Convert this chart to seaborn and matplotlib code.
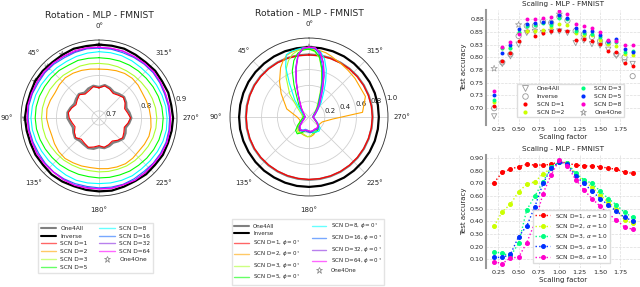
import numpy as np
import matplotlib
matplotlib.use("Agg")
import matplotlib.pyplot as plt
import seaborn as sns
from matplotlib.lines import Line2D

# ---------------- data ----------------
# Panel 1: rotation, MLP, FMNIST (accuracy vs angle, deg, every 10 deg)
rot1_angles = list(range(0, 360, 10))
rot1_inverse = [0.887, 0.886, 0.888, 0.886, 0.885, 0.887, 0.888, 0.886, 0.887, 0.889, 0.887, 0.886, 0.887, 0.886, 0.888, 0.887, 0.885, 0.886,
                0.887, 0.888, 0.886, 0.885, 0.887, 0.886, 0.888, 0.887, 0.888, 0.889, 0.887, 0.888, 0.886, 0.887, 0.885, 0.886, 0.888, 0.887]
rot1_one4all = [0.767, 0.772, 0.768, 0.762, 0.768, 0.764, 0.760, 0.765, 0.770, 0.769, 0.762, 0.758, 0.763, 0.768, 0.764, 0.766, 0.770, 0.768,
                0.762, 0.766, 0.764, 0.760, 0.765, 0.770, 0.766, 0.760, 0.766, 0.771, 0.767, 0.762, 0.768, 0.772, 0.768, 0.764, 0.770, 0.774]
rot1_scn = {
    1: [0.765, 0.770, 0.762, 0.758, 0.766, 0.760, 0.755, 0.762, 0.768, 0.764, 0.757, 0.752, 0.760, 0.766, 0.758, 0.762, 0.768, 0.763,
        0.758, 0.764, 0.760, 0.755, 0.762, 0.767, 0.761, 0.756, 0.763, 0.769, 0.762, 0.757, 0.765, 0.770, 0.764, 0.760, 0.767, 0.772],
    2: [0.818, 0.820, 0.823, 0.826, 0.828, 0.826, 0.823, 0.826, 0.829, 0.828, 0.824, 0.822, 0.825, 0.828, 0.829, 0.826, 0.824, 0.822,
        0.823, 0.825, 0.827, 0.829, 0.828, 0.826, 0.828, 0.830, 0.829, 0.826, 0.824, 0.822, 0.821, 0.824, 0.826, 0.825, 0.822, 0.819],
    3: [0.834, 0.835, 0.836, 0.835, 0.837, 0.838, 0.840, 0.841, 0.842, 0.842, 0.841, 0.840, 0.838, 0.836, 0.835, 0.833, 0.832, 0.831,
        0.832, 0.833, 0.834, 0.836, 0.837, 0.838, 0.840, 0.842, 0.843, 0.843, 0.842, 0.840, 0.838, 0.836, 0.835, 0.834, 0.834, 0.834],
    5: [0.850, 0.851, 0.853, 0.852, 0.855, 0.856, 0.857, 0.859, 0.860, 0.860, 0.859, 0.857, 0.855, 0.853, 0.852, 0.850, 0.849, 0.848,
        0.849, 0.850, 0.851, 0.853, 0.854, 0.856, 0.858, 0.860, 0.861, 0.861, 0.860, 0.858, 0.856, 0.854, 0.853, 0.852, 0.851, 0.850],
    8: [0.867, 0.866, 0.865, 0.864, 0.865, 0.866, 0.868, 0.870, 0.871, 0.872, 0.871, 0.869, 0.867, 0.866, 0.865, 0.866, 0.867, 0.866,
        0.865, 0.866, 0.867, 0.868, 0.867, 0.868, 0.870, 0.872, 0.873, 0.872, 0.871, 0.869, 0.867, 0.866, 0.865, 0.866, 0.867, 0.867],
    16: [0.877, 0.878, 0.877, 0.876, 0.878, 0.879, 0.878, 0.880, 0.881, 0.880, 0.879, 0.878, 0.877, 0.878, 0.879, 0.878, 0.877, 0.876,
         0.877, 0.878, 0.879, 0.878, 0.877, 0.879, 0.880, 0.881, 0.880, 0.879, 0.878, 0.877, 0.878, 0.879, 0.878, 0.877, 0.876, 0.877],
    32: [0.879, 0.880, 0.879, 0.880, 0.881, 0.880, 0.882, 0.881, 0.883, 0.882, 0.881, 0.880, 0.881, 0.880, 0.879, 0.880, 0.881, 0.879,
         0.880, 0.881, 0.880, 0.882, 0.881, 0.880, 0.882, 0.883, 0.882, 0.881, 0.880, 0.879, 0.880, 0.881, 0.880, 0.879, 0.880, 0.879],
    64: [0.880, 0.881, 0.882, 0.881, 0.882, 0.883, 0.882, 0.883, 0.884, 0.883, 0.882, 0.881, 0.882, 0.881, 0.880, 0.881, 0.882, 0.881,
         0.880, 0.882, 0.881, 0.883, 0.882, 0.881, 0.883, 0.884, 0.883, 0.882, 0.881, 0.880, 0.881, 0.882, 0.881, 0.880, 0.881, 0.880],
}
rot1_one4one_angles = [0, 30, 45, 60, 90]
rot1_one4one = [0.886, 0.887, 0.884, 0.887, 0.888]

# Panel 2: rotation, SCN trained at phi = 0
rot2_circ_angles = list(range(0, 360, 10))
rot2_inverse = [0.885, 0.884, 0.886, 0.885, 0.884, 0.885, 0.886, 0.885, 0.884, 0.885, 0.886, 0.885, 0.884, 0.885, 0.886, 0.884, 0.885, 0.886,
                0.885, 0.884, 0.885, 0.886, 0.885, 0.884, 0.885, 0.886, 0.885, 0.884, 0.885, 0.886, 0.885, 0.884, 0.885, 0.886, 0.885, 0.884]
rot2_one4all = [0.790, 0.792, 0.795, 0.798, 0.800, 0.801, 0.802, 0.801, 0.800, 0.799, 0.800, 0.801, 0.802, 0.800, 0.798, 0.796, 0.795, 0.794,
                0.795, 0.796, 0.798, 0.800, 0.801, 0.802, 0.803, 0.804, 0.805, 0.806, 0.806, 0.804, 0.802, 0.800, 0.798, 0.795, 0.793, 0.791]
rot2_scn1 = [0.786, 0.788, 0.791, 0.794, 0.796, 0.797, 0.798, 0.797, 0.796, 0.795, 0.796, 0.797, 0.798, 0.796, 0.794, 0.792, 0.791, 0.790,
             0.791, 0.792, 0.794, 0.796, 0.797, 0.798, 0.799, 0.800, 0.801, 0.802, 0.802, 0.800, 0.798, 0.796, 0.794, 0.791, 0.789, 0.787]
rot2_angles = [0, 5, 10, 15, 20, 25, 30, 40, 50, 70, 90, 110, 125, 135, 145, 155, 165, 175, 185, 195, 205, 215, 225, 235,
               250, 265, 275, 290, 310, 320, 330, 335, 340, 345, 350, 355]
rot2_scn = {
    2: [0.86, 0.86, 0.86, 0.85, 0.83, 0.78, 0.72, 0.58, 0.46, 0.30, 0.15, 0.12, 0.15, 0.20, 0.22, 0.23, 0.24, 0.25, 0.25, 0.23, 0.20, 0.18,
        0.17, 0.16, 0.18, 0.30, 0.68, 0.76, 0.76, 0.77, 0.79, 0.80, 0.82, 0.84, 0.85, 0.86],
    3: [0.86, 0.86, 0.85, 0.82, 0.76, 0.68, 0.58, 0.38, 0.20, 0.10, 0.08, 0.10, 0.16, 0.22, 0.24, 0.22, 0.23, 0.25, 0.24, 0.21, 0.19, 0.18,
        0.16, 0.11, 0.07, 0.05, 0.05, 0.06, 0.10, 0.15, 0.24, 0.33, 0.46, 0.62, 0.76, 0.83],
    5: [0.86, 0.85, 0.82, 0.74, 0.62, 0.45, 0.32, 0.20, 0.13, 0.08, 0.07, 0.10, 0.17, 0.24, 0.26, 0.22, 0.18, 0.17, 0.19, 0.21, 0.21, 0.20,
        0.17, 0.12, 0.07, 0.05, 0.05, 0.06, 0.11, 0.17, 0.26, 0.35, 0.48, 0.63, 0.77, 0.84],
    8: [0.88, 0.88, 0.87, 0.86, 0.84, 0.70, 0.50, 0.28, 0.15, 0.07, 0.05, 0.07, 0.11, 0.16, 0.19, 0.18, 0.16, 0.17, 0.19, 0.20, 0.21, 0.22,
        0.20, 0.14, 0.08, 0.06, 0.06, 0.08, 0.15, 0.24, 0.38, 0.50, 0.64, 0.76, 0.84, 0.87],
    16: [0.88, 0.87, 0.80, 0.65, 0.48, 0.34, 0.25, 0.16, 0.11, 0.06, 0.05, 0.07, 0.12, 0.18, 0.21, 0.20, 0.18, 0.19, 0.20, 0.19, 0.18, 0.19,
         0.17, 0.12, 0.07, 0.05, 0.05, 0.06, 0.12, 0.18, 0.27, 0.36, 0.50, 0.66, 0.80, 0.87],
    32: [0.885, 0.87, 0.79, 0.63, 0.46, 0.33, 0.24, 0.15, 0.10, 0.06, 0.05, 0.07, 0.11, 0.17, 0.20, 0.19, 0.17, 0.18, 0.19, 0.18, 0.17, 0.18,
         0.17, 0.13, 0.08, 0.06, 0.06, 0.08, 0.14, 0.21, 0.32, 0.42, 0.56, 0.71, 0.83, 0.88],
    64: [0.885, 0.875, 0.80, 0.64, 0.47, 0.33, 0.24, 0.15, 0.10, 0.06, 0.05, 0.06, 0.10, 0.16, 0.19, 0.19, 0.17, 0.17, 0.18, 0.18, 0.17, 0.17,
         0.16, 0.12, 0.07, 0.05, 0.05, 0.07, 0.13, 0.20, 0.30, 0.40, 0.55, 0.70, 0.82, 0.88],
}
rot2_one4one_angles = [0]
rot2_one4one = [0.885]

# Panel 3: scaling (test accuracy vs scaling factor)
scale_x = [0.2, 0.3, 0.4, 0.5, 0.6, 0.7, 0.8, 0.9, 1.0, 1.1, 1.2, 1.3, 1.4, 1.5, 1.6, 1.7, 1.8, 1.9]
sc_one4all = [0.684, 0.787, 0.802, 0.825, 0.848, 0.850, 0.848, 0.850, 0.851, 0.848, 0.828, 0.833, 0.826, 0.823, 0.815, 0.803, 0.790, 0.787]
sc_inverse = [0.700, 0.790, 0.806, 0.842, 0.862, 0.862, 0.870, 0.868, 0.880, 0.872, 0.852, 0.845, 0.840, 0.832, 0.828, 0.806, 0.800, 0.763]
sc_scn = {
    1: [0.705, 0.792, 0.809, 0.832, 0.851, 0.842, 0.847, 0.851, 0.853, 0.851, 0.835, 0.836, 0.833, 0.826, 0.812, 0.810, 0.788, 0.782],
    2: [0.712, 0.819, 0.818, 0.848, 0.852, 0.852, 0.853, 0.860, 0.865, 0.864, 0.848, 0.844, 0.843, 0.835, 0.826, 0.822, 0.806, 0.805],
    3: [0.716, 0.819, 0.818, 0.850, 0.862, 0.863, 0.868, 0.864, 0.878, 0.876, 0.851, 0.848, 0.846, 0.840, 0.830, 0.830, 0.810, 0.812],
    5: [0.725, 0.808, 0.825, 0.855, 0.865, 0.868, 0.870, 0.870, 0.884, 0.878, 0.858, 0.851, 0.851, 0.843, 0.833, 0.836, 0.817, 0.810],
    8: [0.734, 0.820, 0.830, 0.845, 0.876, 0.875, 0.878, 0.880, 0.891, 0.886, 0.866, 0.862, 0.857, 0.850, 0.834, 0.832, 0.825, 0.825],
}
sc_one4one_x = [0.2, 0.5, 1.0]
sc_one4one = [0.778, 0.864, 0.885]
sc_yticks = [0.700, 0.725, 0.750, 0.775, 0.800, 0.825, 0.850, 0.875]
sc_yticklabels = ["0.70", "0.73", "0.75", "0.78", "0.80", "0.83", "0.85", "0.88"]

# Panel 4: scaling, SCN with alpha = 1.0
sa_scn = {
    1: [0.706, 0.789, 0.813, 0.833, 0.852, 0.845, 0.846, 0.850, 0.875, 0.860, 0.845, 0.840, 0.836, 0.833, 0.820, 0.813, 0.789, 0.780],
    2: [0.363, 0.476, 0.535, 0.635, 0.693, 0.714, 0.775, 0.820, 0.870, 0.860, 0.770, 0.720, 0.670, 0.610, 0.550, 0.500, 0.410, 0.384],
    3: [0.159, 0.146, 0.125, 0.225, 0.490, 0.600, 0.714, 0.830, 0.870, 0.860, 0.780, 0.730, 0.700, 0.640, 0.580, 0.530, 0.470, 0.430],
    5: [0.114, 0.114, 0.138, 0.278, 0.363, 0.516, 0.700, 0.820, 0.870, 0.850, 0.760, 0.700, 0.640, 0.580, 0.530, 0.480, 0.430, 0.405],
    8: [0.080, 0.065, 0.110, 0.115, 0.230, 0.390, 0.620, 0.770, 0.885, 0.840, 0.730, 0.650, 0.580, 0.520, 0.460, 0.410, 0.355, 0.336],
}
sa_yticks = [0.1, 0.2, 0.3, 0.4, 0.5, 0.6, 0.7, 0.8, 0.9]

# ---------------- style ----------------
sns.set_theme(style="whitegrid")
plt.rcParams["font.family"] = ["DejaVu Sans"]
plt.rcParams["axes.unicode_minus"] = False

col8 = {1: "#ff0000", 2: "#ffa500", 3: "#adff2f", 5: "#00ff00", 8: "#00ffff", 16: "#1e6fff", 32: "#8a2be2", 64: "#ff00ff"}
col5 = {1: "#ff0000", 2: "#ccff00", 3: "#00ff80", 5: "#0030ff", 8: "#ff00cc"}
GREY = "#808080"

fig = plt.figure(figsize=(6.4, 2.87), dpi=100)
W, H = 640, 287


def px_axes(cx, cy, r):
    return [(cx - r) / W, 1 - (cy + r) / H, 2 * r / W, 2 * r / H]


def closed(a):
    return np.append(np.asarray(a, float), a[0])


def rad(a):
    return np.deg2rad(closed(a))


def style_polar(ax, rticks, rlim):
    ax.set_theta_zero_location("N")
    ax.set_theta_direction(1)
    ax.set_thetagrids(range(0, 360, 45), labels=[f"{d}°" for d in range(0, 360, 45)], fontsize=5)
    ax.set_ylim(*rlim)
    ax.set_rticks(rticks)
    ax.set_yticklabels([f"{t:.1f}" for t in rticks], fontsize=5)
    ax.set_rlabel_position(282)
    ax.grid(True, color="#d0d0d0", lw=0.6)
    ax.spines["polar"].set_color("#333333")
    ax.spines["polar"].set_linewidth(0.6)
    ax.set_facecolor("white")
    ax.tick_params(axis="x", pad=3, length=0)
    ax.tick_params(axis="y", pad=0, length=0)
    ax.set_xlabel("")
    ax.set_ylabel("")


def pline(ax, ang, vals, color, lw, z=2):
    sns.lineplot(x=rad(ang), y=closed(vals), ax=ax, color=color, lw=lw, sort=False,
                 estimator=None, zorder=z, legend=False)


# ---------------- panel 1 ----------------
ax1 = fig.add_axes(px_axes(99, 118, 78), projection="polar")
ax1.scatter(np.deg2rad(rot1_one4one_angles), rot1_one4one, marker="*", s=22, facecolors="none",
            edgecolors=GREY, linewidths=0.5, zorder=1)
pline(ax1, rot1_angles, rot1_inverse, "black", 1.6)
pline(ax1, rot1_angles, rot1_one4all, GREY, 1.8)
for d, v in rot1_scn.items():
    pline(ax1, rot1_angles, v, col8[d], 0.8)
style_polar(ax1, [0.7, 0.8, 0.9], (0.68, 0.9))
ax1.set_title("Rotation - MLP - FMNIST", fontsize=6.6, pad=4)

# ---------------- panel 2 ----------------
ax2 = fig.add_axes(px_axes(309, 117, 79), projection="polar")
ax2.scatter(np.deg2rad(rot2_one4one_angles), rot2_one4one, marker="*", s=22, facecolors="none",
            edgecolors=GREY, linewidths=0.5, zorder=1)
pline(ax2, rot2_circ_angles, rot2_inverse, "black", 1.6)
pline(ax2, rot2_circ_angles, rot2_one4all, GREY, 1.6)
pline(ax2, rot2_circ_angles, rot2_scn1, col8[1], 0.9)
for d, v in rot2_scn.items():
    pline(ax2, rot2_angles, v, col8[d], 0.8)
style_polar(ax2, [0.2, 0.4, 0.6, 0.8, 1.0], (0, 1.0))
ax2.set_title("Rotation - MLP - FMNIST", fontsize=6.6, pad=4)

# legends for polar panels
def rot_handles(phi):
    hs = [Line2D([], [], color=GREY, lw=1.5, label="One4All"),
          Line2D([], [], color="black", lw=1.5, label="Inverse")]
    for d in [1, 2, 3, 5, 8, 16, 32, 64]:
        lab = f"SCN D={d}" + (r", $\phi=0^\circ$" if phi else "")
        hs.append(Line2D([], [], color=col8[d], lw=1.0, alpha=0.6, label=lab))
    hs.append(Line2D([], [], color=GREY, marker="*", ls="none", mfc="none", mew=0.5, ms=5, label="One4One"))
    return hs

leg_kw = dict(loc="upper center", ncol=2, frameon=True, fancybox=False, edgecolor="#dddddd",
              handlelength=2.6, columnspacing=2.0, borderpad=0.45, handletextpad=0.8, borderaxespad=0)
fig.legend(handles=rot_handles(False), bbox_to_anchor=(95.5 / W, 1 - 223 / H), labelspacing=0.48,
           fontsize=4.2, **leg_kw)
fig.legend(handles=rot_handles(True), bbox_to_anchor=(308 / W, 1 - 219 / H), labelspacing=0.3,
           fontsize=4.0, **leg_kw)

# ---------------- panel 3 ----------------
def style_cart(ax):
    ax.set_facecolor("white")
    ax.grid(True, ls="--", color="#dddddd", lw=0.5)
    for s in ["top", "right", "bottom"]:
        ax.spines[s].set_visible(False)
    ax.spines["left"].set_color("#999999")
    ax.spines["left"].set_linewidth(1.5)
    ax.tick_params(labelsize=4.6, pad=1.5, length=0)
    ax.set_xlim(0.10, 1.99)
    ax.set_xticks([0.25, 0.5, 0.75, 1.0, 1.25, 1.5, 1.75])
    ax.set_xticklabels(["0.25", "0.50", "0.75", "1.00", "1.25", "1.50", "1.75"])
    ax.set_xlabel("Scaling factor", fontsize=5, labelpad=1.5)
    ax.set_ylabel("Test accuracy", fontsize=5, labelpad=2)
    ax.set_title("Scaling - MLP - FMNIST", fontsize=5.2, pad=3)

ax3 = fig.add_axes([486 / W, 1 - 125 / H, 154 / W, 115 / H])
ax3.scatter(scale_x, sc_one4all, marker="v", s=14, facecolors="none", edgecolors="#999999", linewidths=0.6, zorder=3)
ax3.scatter(scale_x, sc_inverse, marker="o", s=14, facecolors="none", edgecolors="#999999", linewidths=0.6, zorder=3)
for d, v in sc_scn.items():
    sns.scatterplot(x=scale_x, y=v, ax=ax3, color=col5[d], marker="o", s=8, linewidth=0, zorder=4, legend=False)
ax3.scatter(sc_one4one_x, sc_one4one, marker="*", s=22, facecolors="none", edgecolors="#999999", linewidths=0.5, zorder=3)
style_cart(ax3)
ax3.set_ylim(0.667, 0.893)
ax3.set_yticks(sc_yticks)
ax3.set_yticklabels(sc_yticklabels)

mk = lambda c, m="o", fill=True, ms=3: Line2D([], [], color=c, marker=m, ls="none", ms=ms,
                                             mfc=c if fill else "none", mec=c if not fill else "none", mew=0.6)
h3 = [mk("#999999", "v", False, 4), mk("#999999", "o", False, 4), mk(col5[1]), mk(col5[2]),
      mk(col5[3]), mk(col5[5]), mk(col5[8]), mk("#999999", "*", False, 5)]
l3 = ["One4All", "Inverse", "SCN D=1", "SCN D=2", "SCN D=3", "SCN D=5", "SCN D=8", "One4One"]
ax3.legend(h3, l3, loc="lower center", bbox_to_anchor=(0.549, 0.045), ncol=2, fontsize=4.2, frameon=True,
           fancybox=False, edgecolor="#dddddd", framealpha=1, labelspacing=0.45, columnspacing=2.2,
           handletextpad=1.0, borderpad=0.4)

# ---------------- panel 4 ----------------
ax4 = fig.add_axes([486 / W, 1 - 268 / H, 154 / W, 113 / H])
for d, v in sa_scn.items():
    sns.lineplot(x=scale_x, y=v, ax=ax4, color=col5[d], marker="o", ms=2.8, mec=col5[d], lw=1.0,
                 ls=":", label=rf"SCN D={d}, $\alpha=1.0$", sort=False, estimator=None)
style_cart(ax4)
ax4.set_ylim(0.03, 0.925)
ax4.set_yticks(sa_yticks)
ax4.set_yticklabels([f"{t:.2f}" for t in sa_yticks])
ax4.legend(loc="lower right", bbox_to_anchor=(0.825, 0.015), fontsize=4.2, frameon=True, fancybox=False,
           edgecolor="#dddddd", framealpha=1, labelspacing=0.5, handlelength=2.6, borderpad=0.4)

fig.savefig("out.png", dpi=100)
